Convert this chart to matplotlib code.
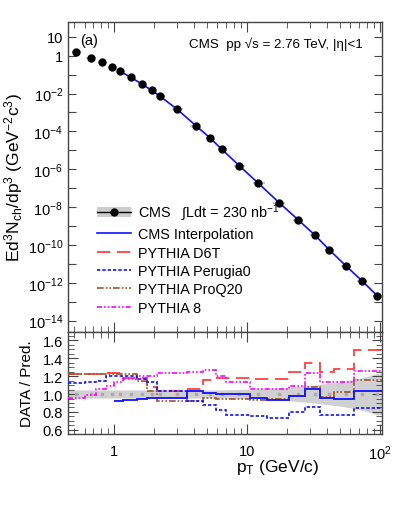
import numpy as np
import matplotlib
matplotlib.use("Agg")
import matplotlib.pyplot as plt
from matplotlib.lines import Line2D
from matplotlib.patches import Patch
from matplotlib.ticker import FixedLocator, FuncFormatter, MultipleLocator, LogLocator, NullFormatter

plt.rcParams['font.family'] = ['Liberation Sans', 'DejaVu Sans']
plt.rcParams['mathtext.fontset'] = 'custom'
plt.rcParams['mathtext.rm'] = 'Liberation Sans'
plt.rcParams['mathtext.it'] = 'Liberation Sans:italic'
plt.rcParams['mathtext.bf'] = 'Liberation Sans:bold'

# ---- data ----
pt = [0.52, 0.667, 0.816, 0.966, 1.11, 1.34, 1.63, 1.92, 2.22, 2.97, 4.13, 5.29,
      6.44, 8.76, 12.2, 17.5, 24.4, 32.4, 41.8, 55.5, 73.7, 95.6]
log_yield = [0.176, -0.109, -0.352, -0.616, -0.828, -1.145, -1.514, -1.831, -2.148,
             -2.819, -3.70, -4.351, -4.932, -5.814, -6.744, -7.769, -8.683, -9.475,
             -10.268, -11.097, -11.905, -12.682]
band_half = [0.045, 0.045, 0.045, 0.045, 0.045, 0.045, 0.045, 0.045, 0.045, 0.045, 0.045,
             0.045, 0.045, 0.05, 0.055, 0.065, 0.085, 0.10, 0.12, 0.145, 0.18, 0.23]

ratio_edges = [0.45, 0.6, 0.73, 0.87, 1.0, 1.17, 1.5, 1.77, 2.1, 3.53, 4.71, 5.87, 7.0,
               10.6, 14.1, 20.6, 27.5, 35.7, 45.6, 64.5, 104]
r_interp = [np.nan, np.nan, np.nan, np.nan, 0.92, 0.93, 0.945, 0.955, 0.96, 1.035, 1.015,
            1.005, 1.005, 0.96, 0.93, 0.98, 1.054, 0.96, 0.945, 1.03]
r_d6t = [1.22, 1.22, 1.22, 1.23, 1.23, 1.18, 1.18, 1.08, 1.035, 1.06, 1.155, 1.18, 1.18,
         1.165, 1.165, 1.25, 1.35, 1.24, 1.275, 1.485]
r_perugia0 = [1.117, 1.135, 1.15, 1.195, 1.195, 1.195, 1.165, 1.13, 1.035, 0.925, 0.88,
              0.82, 0.77, 0.75, 0.73, 0.80, 0.85, 0.77, 0.77, 0.845]
r_proq20 = [1.225, 1.225, 1.225, 1.225, 1.225, 1.225, 1.145, 1.035, 0.925, 0.92, 0.955,
            0.945, 0.945, 0.93, 0.95, 0.98, 1.08, 0.97, 1.025, 1.155]
r_pythia8 = [0.96, 0.99, 1.055, 1.09, 1.135, 1.17, 1.195, 1.195, 1.23, 1.25, 1.27, 1.2,
             1.135, 1.055, 1.055, 1.09, 1.23, 1.13, 1.13, 1.26]

pt = np.array(pt)
yld = 10.0 ** np.array(log_yield)
lpt = np.log10(pt)
mids = np.concatenate([[lpt[0] - (lpt[1] - lpt[0]) / 2], (lpt[1:] + lpt[:-1]) / 2,
                       [lpt[-1] + (lpt[-1] - lpt[-2]) / 2]])
xlo = pt - 10 ** mids[:-1]
xhi = 10 ** mids[1:] - pt

C_RED = '#ff3030'
C_BLUE = '#1010ff'
C_BROWN = '#a0522d'
C_MAG = '#ff00ff'
FRAME = '#444444'

fig = plt.figure(figsize=(3.99, 5.06), dpi=100)
ax = fig.add_axes([0.1704, 0.3419, 0.787, 0.6126])
axr = fig.add_axes([0.1704, 0.1403, 0.787, 0.2016], sharex=ax)

XL = (0.45, 104)

# ---- top panel ----
ax.errorbar(pt, yld, xerr=[xlo * 0.6, xhi * 0.6], fmt='none', ecolor='#bbbbbb', elinewidth=1.2, zorder=2)
ax.plot(pt[4:], yld[4:], color=C_BLUE, lw=1.2, zorder=3)
ax.plot(pt, yld, 'o', color='black', ms=5.0, zorder=4)
ax.set_xscale('log')
ax.set_yscale('log')
ax.set_xlim(*XL)
ax.set_ylim(2.5e-15, 60)

ax.yaxis.set_major_locator(FixedLocator([10.0 ** k for k in range(-14, 2)]))

def yfmt(v, pos):
    k = int(round(np.log10(v)))
    if k == 1:
        return '10'
    if k == 0:
        return '1'
    if k < 0 and k % 2 == 0:
        return r'$10^{%d}$' % k
    return ''

ax.yaxis.set_major_formatter(FuncFormatter(yfmt))
ax.yaxis.set_minor_locator(FixedLocator([]))
ax.tick_params(axis='x', which='both', labelbottom=False)

ax.set_ylabel(r'Ed$^{3}$N$_{\rm ch}$/dp$^{3}$ (GeV$^{-2}$c$^{3}$)', fontsize=12.5, labelpad=2)
ax.text(0.04, 0.965, '(a)', transform=ax.transAxes, fontsize=10.5, va='top', ha='left')
ax.text(0.94, 0.93, 'CMS  pp \u221as = 2.76 TeV, |\u03b7|<1', transform=ax.transAxes,
        fontsize=9.6, va='center', ha='right')

h_cms = (Patch(facecolor='#cccccc', edgecolor='none'),
         Line2D([], [], color='black', lw=1, marker='o', ms=5))
handles = [h_cms,
           Line2D([], [], color=C_BLUE, lw=1.2),
           Line2D([], [], color=C_RED, lw=1.2, dashes=(8, 4)),
           Line2D([], [], color=C_BLUE, lw=1.2, dashes=(2, 1.2)),
           Line2D([], [], color=C_BROWN, lw=1.2, dashes=(4, 1.2, 1, 1.2, 1, 1.2)),
           Line2D([], [], color=C_MAG, lw=1.2, dashes=(3, 1.2, 1, 1.2, 1, 1.2))]
labels = [r'CMS   $\int$Ldt = 230 nb$^{-1}$', 'CMS Interpolation', 'PYTHIA D6T',
          'PYTHIA Perugia0', 'PYTHIA ProQ20', 'PYTHIA 8']
leg = ax.legend(handles, labels, loc='upper left', bbox_to_anchor=(0.075, 0.44), frameon=False,
                fontsize=10.4, handlelength=2.3, handletextpad=0.55, labelspacing=0.3, borderaxespad=0)

# ---- ratio panel ----
edges = np.array(ratio_edges)
axr.fill_between(np.concatenate([[edges[0]], pt, [edges[-1]]]),
                 1 - np.concatenate([[band_half[0]], band_half, [band_half[-1]]]),
                 1 + np.concatenate([[band_half[0]], band_half, [band_half[-1]]]),
                 color='#d0d0d0', lw=0, zorder=1)
axr.plot(pt, np.ones_like(pt), 's', color='#aaaaaa', ms=1.5, zorder=2)

def step(a, vals, **kw):
    v = np.array(vals, dtype=float)
    a.stairs(v, edges, baseline=None, **kw)

step(axr, r_d6t, color=C_RED, lw=1.2, linestyle=(0, (8, 4)), zorder=4)
step(axr, r_proq20, color=C_BROWN, lw=1.2, linestyle=(0, (4, 1.2, 1, 1.2, 1, 1.2)), zorder=4)
step(axr, r_pythia8, color=C_MAG, lw=1.2, linestyle=(0, (3, 1.2, 1, 1.2, 1, 1.2)), zorder=4)
step(axr, r_perugia0, color=C_BLUE, lw=1.2, linestyle=(0, (2, 1.2)), zorder=4)
step(axr, r_interp, color=C_BLUE, lw=1.3, zorder=5)

axr.set_xlim(*XL)
axr.set_ylim(0.555, 1.69)
axr.yaxis.set_major_locator(MultipleLocator(0.2))
axr.yaxis.set_minor_locator(MultipleLocator(0.05))
axr.yaxis.set_major_formatter(FuncFormatter(lambda v, p: '%.1f' % v))
axr.xaxis.set_major_locator(FixedLocator([1, 10, 100]))
axr.xaxis.set_major_formatter(FuncFormatter(lambda v, p: {1: '1', 10: '10', 100: r'$10^{2}$'}.get(int(round(v)), '')))
axr.xaxis.set_minor_locator(LogLocator(base=10, subs=np.arange(2, 10)))
axr.xaxis.set_minor_formatter(NullFormatter())
axr.set_ylabel('DATA / Pred.', fontsize=11, labelpad=6)
axr.set_xlabel(r'p$_{\rm T}$ (GeV/c)', fontsize=12.5, loc='right', labelpad=6)
axr.xaxis.set_label_coords(0.8, -0.23)

for a in (ax, axr):
    for s in a.spines.values():
        s.set_color(FRAME)
        s.set_linewidth(1.0)
    a.tick_params(which='both', direction='in', top=True, right=True, color=FRAME, labelsize=10.5)
    a.tick_params(which='major', length=7)
    a.tick_params(which='minor', length=4)
ax.tick_params(axis='y', which='major', length=6)
axr.tick_params(axis='x', which='major', pad=7)

fig.savefig('out.png', dpi=100)
